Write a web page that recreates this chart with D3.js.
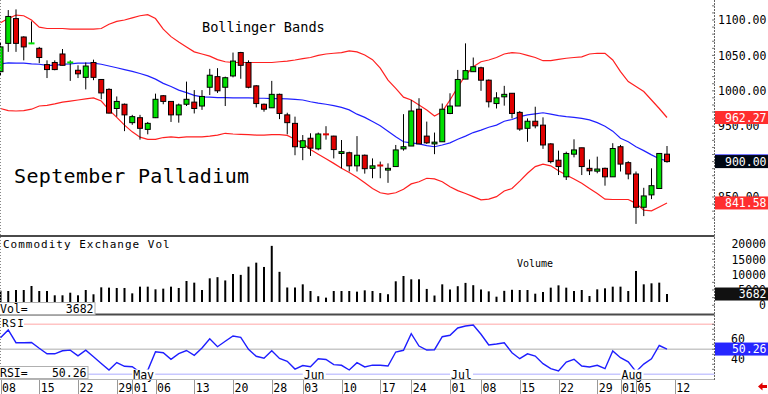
<!DOCTYPE html>
<html>
<head>
<meta charset="utf-8">
<script src="https://cdn.jsdelivr.net/npm/d3@7"></script>
<style>
  body { margin: 0; background: #fff; overflow: hidden; }
  svg { display: block; }
  text { font-family: "DejaVu Sans Mono", monospace; fill: #000; }
</style>
</head>
<body>
<div id="chart"></div>
<script>
// daily OHLC, Apr 08 .. Aug 09
const opens = [1027,1067,1102,1076,1066.5,1060,1037,1040,1052,1038,
  1029,1019,1040,1016,1002,975,981,955,962,945.5,
  962,993,985,966,981,984,978.5,1005,1020,1005,
  1021,1054,1040,1007,981,976,995,966,954,920,
  933,918,938.5,936,911.5,912.5,894,909,890.5,894.5,
  888,893,918,922,974,936,925,928,968,978.5,
  1016.5,1027,1032.5,1015,982,991.5,996.5,969.5,947,957,
  951.5,925,902,878.5,910.5,919.5,890.5,886.5,890.5,878.5,
  921,898.5,882.5,835.5,853,862,910.5];
const highs = [1068,1114,1115,1077,1098,1062,1043,1043,1059,1043,
  1036,1040,1044,1016.5,1003.5,992,982,966,966,956,
  996,994,985,982,1013,1001,1001,1031,1032,1020,
  1054,1055,1043,1008,982,1014,996,969,963.5,937.5,
  940,941,950,936.5,930.5,914,936,910,904.5,900,
  897.5,923.5,967,987,989.5,956.5,941,982,996.5,1029.5,
  1067,1047,1034,1016,998,1007,996.5,971.5,961,977.5,
  962.5,926,915.5,914,931.5,919.5,903,907,891.5,926,
  923.5,900.5,886,863,890.5,911.5,922];
const lows = [1022,1055,1055,1043,1066,1039,1018,1029,1036,1014,
  1018,1002,1015,988,968,963.5,943,952,931,938.5,
  961.5,981,956,955,978.5,968,973,994,997,978.5,
  1019,1017,1003.5,976.5,970.5,976,960,938.5,909,902,
  908,916,931,904.5,890.5,886,886,883,876.5,876.5,
  870,893,915.5,922,925,925,910.5,928,967,978.5,
  1016.5,1027,1000,976.5,975,979,961,943.5,928,947,
  918,897.5,881,874,906,881,881,883.5,866,878.5,
  886,875,812,823,847,862,898.5];
const closes = [1062,1105,1067,1062,1067,1047,1030,1030,1036,1040,
  1024,1035,1019,997,968.5,985,966,963.5,947,954,
  988,985,966,980,988,975,992,1022,1000,1018.5,
  1042,1036,1005,982,974,995,968,955,921,929.5,
  919,939,938,917,914,894,909,890,894,894,
  890.5,916.5,921,971.5,925,926.5,927.5,974,978.5,1016,
  1028.5,1034,1015,984.5,990,995,968,946,957,950.5,
  923.5,900,893,911.5,916.5,893,887,889.5,878.5,918.5,
  896.5,882.5,835.5,851.5,866,911.5,900];

// Bollinger bands
const upperBand = [1096,1102,1107,1106,1100,1090,1088,1088,1088,1087,
  1087,1087,1087,1088,1094,1098,1100,1103,1106,1107.5,
  1102,1087,1076.5,1069,1062,1055,1052,1049,1044,1041,
  1040,1040,1040,1040,1040,1040,1041,1042,1043.5,1045.5,
  1047,1050,1052,1053,1054,1056.5,1055,1050.5,1044,1032,
  1015,1003.5,991,987,980,973,964.5,970.5,987,1005,
  1022,1034,1041,1043.5,1047,1052,1054,1053,1050,1047,
  1042.5,1042.5,1044.5,1046,1047,1048,1052,1053,1053,1043.5,
  1027,1013,1006,999,987,975,962.27];
const midBand = [1038,1039.5,1039,1039,1038,1037.5,1036,1036,1037.5,1038,
  1039,1039,1039,1037.5,1035,1032.5,1030,1027.5,1024.5,1021,
  1016.5,1010.5,1006,1001,997.5,993.5,991.5,991,990.5,990.5,
  990,990,990,989.5,989.5,989,989,988.5,988,987,
  984.5,982.5,981,979,976.5,973,967,962.5,956.5,950.5,
  943,935,928,926.5,925,922.5,921,923.5,926.5,931.5,
  936,941,944.5,948.5,951.5,957,959.5,963.5,966,967.5,
  969,967,965,963.5,962.5,961,959,955,950,943,
  933,928,921,915.5,909.5,904,901];
const lowerBand = [975,972,971.5,972,974,978.5,979.5,981.5,984,985.5,
  987,988.5,990,985.5,973,962.5,951.5,942,934.5,931.5,
  931.5,934,935,934,935,935,935,936,937.5,940,
  939,938.5,938,937.5,937.5,938,938,937,931.5,926,
  917,910.5,904,897.5,890.5,884.5,878,870,862,856,
  854,856,861,868.5,871.5,876.5,875.5,871.5,864.5,859,
  855,850.5,846,847,850.5,858.5,862,872.5,883.5,893,
  896.5,894,887,881,875.5,869.5,862,855,847,846.5,
  846.5,846.5,841,831.5,830.5,836,841.58];

const volumes = [4770,4660,4990,4990,6300,4660,4660,3260,3260,4110,
  3260,4990,3590,5860,5760,5650,5650,3900,6080,6080,
  5210,5430,6080,5650,7930,7390,4990,8800,9180,8110,
  10210,9930,12600,13910,12510,19390,10920,5810,5810,6840,
  4660,2960,2500,4660,4660,4660,4450,4880,4660,3990,
  3610,7830,9560,8480,8480,5340,3190,6840,5160,6230,
  7310,6560,5160,4550,2810,4720,5060,4990,4990,3790,
  4340,5760,6510,5760,4660,4990,3030,5210,5540,6080,
  6080,4660,11200,6840,7170,7390,3682];

const rsiValues = [61.5,69.3,56.6,56.5,56.8,51,45.5,45.5,48.5,49.2,
  43.5,49.2,42.6,35.8,29.2,36.8,33,32.5,27,29,
  47.6,46.6,40,45.6,48.8,44,51.3,60.5,52.6,58,
  63.3,62,50,43,41,48.5,40.8,38,30.2,33.8,
  32.5,40.5,39.8,34.7,34,29.3,36.6,32.4,34.2,34,
  33.3,47.3,49,65.6,53.3,49.3,49.6,62.6,64,71.3,
  73.3,74.3,65,54.3,55.3,56.6,46.6,40.6,45.5,43.3,
  35.6,30.6,28.3,37.3,40,33.3,32.3,34,30.6,48.3,
  41.6,37.5,27.5,35.2,40.5,53.8,50.26];

const dayTickIndex = [0,5,10,15,17,20,25,30,35,39,44,49,53,58,62,67,72,77,80,82,87];
const dayTickLabels = ["08","15","22","29","01","06","13","20","28","03","10","17","24","01","08","15","22","29","01","05","12"];
const monthIndex = [17,39,58,80];
const monthLabels = ["May","Jun","Jul","Aug"];

const priceTicks = [850,900,950,1000,1050,1100];
const volTicks = [0,5000,10000,15000,20000];
const rsiTicks = [40,60];
const rsiLevels = [25,50,75];

const W = 768, H = 394;
const axisX = 714.5;

const svg = d3.select('#chart').append('svg')
  .attr('width', W)
  .attr('height', H);

const x = d3.scaleLinear().domain([0, 86]).range([0.5, 667]);
const yPrice = d3.scaleLinear().domain([850, 1100]).range([197, 20]);
const yVol = d3.scaleLinear().domain([0, 20000]).range([305.3, 244]);
const yRsi = d3.scaleLinear().domain([25, 75]).range([374.3, 324.3]);

const defs = svg.append('defs');
defs.append('clipPath').attr('id', 'clipPrice')
  .append('rect').attr('x', 0).attr('y', 0).attr('width', axisX).attr('height', 235);
defs.append('clipPath').attr('id', 'clipVol')
  .append('rect').attr('x', 0).attr('y', 237).attr('width', axisX).attr('height', 65);
defs.append('clipPath').attr('id', 'clipRsi')
  .append('rect').attr('x', 0).attr('y', 316).attr('width', axisX).attr('height', 63);

const days = d3.range(closes.length);

// ---------- price panel ----------
const price = svg.append('g').attr('clip-path', 'url(#clipPrice)');

const bandLine = d3.line().x((d, i) => x(i)).y(d => yPrice(d));
price.append('path').attr('d', bandLine(upperBand))
  .attr('fill', 'none').attr('stroke', '#ff2020').attr('stroke-width', 1.2);
price.append('path').attr('d', bandLine(lowerBand))
  .attr('fill', 'none').attr('stroke', '#ff2020').attr('stroke-width', 1.2);
price.append('path').attr('d', bandLine(midBand))
  .attr('fill', 'none').attr('stroke', '#2020ff').attr('stroke-width', 1.2);

const candle = price.selectAll('g.candle').data(days).join('g').attr('class', 'candle');
candle.append('line')
  .attr('x1', i => x(i)).attr('x2', i => x(i))
  .attr('y1', i => yPrice(highs[i])).attr('y2', i => yPrice(lows[i]))
  .attr('stroke', '#000').attr('stroke-width', 1);
candle.each(function(i) {
  const g = d3.select(this);
  const up = closes[i] >= opens[i];
  const col = up ? '#00e000' : '#e00000';
  const top = yPrice(Math.max(opens[i], closes[i]));
  const h = Math.abs(yPrice(opens[i]) - yPrice(closes[i]));
  if (h < 1.5) {
    g.append('rect').attr('x', x(i) - 3).attr('y', top - 1)
      .attr('width', 6).attr('height', 2).attr('fill', col);
  } else {
    g.append('rect').attr('x', x(i) - 2.5).attr('y', top)
      .attr('width', 5).attr('height', h)
      .attr('fill', col).attr('stroke', '#000').attr('stroke-width', 1);
  }
});

svg.append('text').attr('x', 202).attr('y', 32)
  .attr('font-size', 13.6).text('Bollinger Bands');
svg.append('text').attr('x', 14).attr('y', 183)
  .attr('font-size', 20).attr('letter-spacing', 0.35).text('September Palladium');

// ---------- volume panel ----------
svg.append('g').attr('clip-path', 'url(#clipVol)')
  .selectAll('rect').data(volumes).join('rect')
  .attr('x', (d, i) => x(i) - 1)
  .attr('y', d => yVol(d))
  .attr('width', 2)
  .attr('height', d => yVol(0) - yVol(d))
  .attr('fill', '#000');

svg.append('text').attr('x', 3).attr('y', 244).attr('dy', '0.36em')
  .attr('font-size', 11).attr('letter-spacing', 1).text('Commodity Exchange Vol');
svg.append('text').attr('x', 517).attr('y', 263).attr('dy', '0.36em')
  .attr('font-size', 10).text('Volume');

// ---------- RSI panel ----------
const levelColor = { 25: '#c8c8ff', 50: '#c8c8c8', 75: '#ffc4c4' };
svg.selectAll('line.level').data(rsiLevels).join('line').attr('class', 'level')
  .attr('x1', 0).attr('x2', axisX)
  .attr('y1', d => yRsi(d)).attr('y2', d => yRsi(d))
  .attr('stroke', d => levelColor[d]).attr('stroke-width', 1.6);

svg.append('g').attr('clip-path', 'url(#clipRsi)')
  .append('path')
  .attr('d', d3.line().x((d, i) => x(i)).y(d => yRsi(d))(rsiValues))
  .attr('fill', 'none').attr('stroke', '#1e1eff').attr('stroke-width', 1.4);

svg.append('rect').attr('x', 0).attr('y', 317).attr('width', 24).attr('height', 11).attr('fill', '#fff');
svg.append('text').attr('x', 2).attr('y', 323).attr('dy', '0.36em')
  .attr('font-size', 11).attr('letter-spacing', 1).text('RSI');

// month labels on white patches
const month = svg.selectAll('g.month').data(monthIndex).join('g').attr('class', 'month');
month.append('rect')
  .attr('x', d => x(d)).attr('y', 369.5)
  .attr('width', 23).attr('height', 10).attr('fill', '#fff');
month.append('text')
  .attr('x', d => x(d) + 1).attr('y', 375).attr('dy', '0.36em')
  .attr('font-size', 11.5)
  .text((d, i) => monthLabels[i]);

// ---------- separators & frame ----------
svg.append('line').attr('x1', 0).attr('x2', axisX).attr('y1', 236).attr('y2', 236)
  .attr('stroke', '#4a4a4a').attr('stroke-width', 2);
svg.append('line').attr('x1', 0).attr('x2', axisX).attr('y1', 314.5).attr('y2', 314.5)
  .attr('stroke', '#4a4a4a').attr('stroke-width', 2);
svg.append('line').attr('x1', 0).attr('x2', axisX).attr('y1', 379.5).attr('y2', 379.5)
  .attr('stroke', '#b4b4b4').attr('stroke-width', 1);
svg.append('line').attr('x1', 0.5).attr('x2', 0.5).attr('y1', 0).attr('y2', 379)
  .attr('stroke', '#888').attr('stroke-dasharray', '1,2');

// info boxes at left
function infoBox(x0, y0, w, label, value) {
  svg.append('rect').attr('x', x0).attr('y', y0).attr('width', w).attr('height', 12)
    .attr('fill', '#fff').attr('stroke', '#b0b0b0').attr('stroke-width', 1);
  svg.append('text').attr('x', x0 + 1).attr('y', y0 + 6).attr('dy', '0.36em')
    .attr('font-size', 11.5).text(label);
  svg.append('text').attr('x', x0 + w - 1.5).attr('y', y0 + 6).attr('dy', '0.36em')
    .attr('text-anchor', 'end').attr('font-size', 11.5).text(value);
}
infoBox(-1, 302.5, 96, 'Vol=', d3.format('d')(volumes[volumes.length - 1]));
infoBox(-1, 366.5, 89, 'RSI=', d3.format('.2f')(rsiValues[rsiValues.length - 1]));

// ---------- date axis ----------
const dateAxis = svg.append('g');
dateAxis.selectAll('line').data(dayTickIndex).join('line')
  .attr('x1', d => Math.round(x(d)) + 0.5).attr('x2', d => Math.round(x(d)) + 0.5)
  .attr('y1', 380).attr('y2', 394)
  .attr('stroke', '#999');
dateAxis.selectAll('text').data(dayTickIndex).join('text')
  .attr('x', d => x(d) + 1.5).attr('y', 387.5).attr('dy', '0.36em')
  .attr('font-size', 11.5)
  .text((d, i) => dayTickLabels[i]);

// ---------- right axes ----------
svg.append('line').attr('x1', axisX).attr('x2', axisX).attr('y1', 0).attr('y2', 380)
  .attr('stroke', '#666').attr('stroke-dasharray', '2,1');

const minor = d3.range(820, 1121, 10).map(v => yPrice(v))
  .concat(d3.range(0, 22501, 2500).map(v => yVol(v)).filter(y => y > 238 && y < 313))
  .concat(d3.range(30, 76, 5).map(v => yRsi(v)));
svg.selectAll('line.minor').data(minor).join('line').attr('class', 'minor')
  .attr('x1', axisX - 2.5).attr('x2', axisX)
  .attr('y1', d => d).attr('y2', d => d)
  .attr('stroke', '#777');

const priceAxis = svg.append('g').attr('transform', `translate(${axisX},0)`)
  .call(d3.axisRight(yPrice).tickValues(priceTicks).tickFormat(d3.format('.2f'))
    .tickSize(0).tickPadding(3.5));
priceAxis.select('.domain').remove();
priceAxis.selectAll('text').attr('font-size', 11.5).attr('font-family', '"DejaVu Sans Mono", monospace');

const volAxis = svg.append('g').attr('transform', `translate(${axisX},0)`)
  .call(d3.axisRight(yVol).tickValues(volTicks).tickFormat(d3.format('d')).tickSize(0));
volAxis.select('.domain').remove();
volAxis.selectAll('text').attr('x', 51.5).attr('text-anchor', 'end')
  .attr('font-size', 11.5).attr('font-family', '"DejaVu Sans Mono", monospace');

const rsiAxis = svg.append('g').attr('transform', `translate(${axisX},0)`)
  .call(d3.axisRight(yRsi).tickValues(rsiTicks).tickSize(0).tickPadding(16.5));
rsiAxis.select('.domain').remove();
rsiAxis.selectAll('text').attr('font-size', 11.5).attr('font-family', '"DejaVu Sans Mono", monospace');

// last-value boxes
function valueBox(yc, txt, fill) {
  svg.append('rect').attr('x', axisX + 0.5).attr('y', yc - 6.5)
    .attr('width', W - axisX).attr('height', 13).attr('fill', fill);
  if (txt) {
    svg.append('text').attr('x', 766.5).attr('y', yc).attr('dy', '0.36em')
      .attr('text-anchor', 'end').attr('font-size', 11.5)
      .style('fill', '#fff').text(txt);
  }
}
const last = closes.length - 1;
valueBox(yPrice(upperBand[last]), d3.format('.2f')(upperBand[last]), '#ff2e2e');
valueBox(yPrice(lowerBand[last]), d3.format('.2f')(lowerBand[last]), '#ff2e2e');
valueBox(yPrice(midBand[last]), null, '#2020ff');   // hidden under the close box
valueBox(yPrice(closes[last]), d3.format('.2f')(closes[last]), '#000814');
valueBox(yVol(volumes[last]), d3.format('d')(volumes[last]), '#111');
valueBox(yRsi(rsiValues[last]), d3.format('.2f')(rsiValues[last]), '#2626ff');

// red arrow bottom right
svg.append('path')
  .attr('d', 'M758,386.5 L762.5,382.5 L762.5,385 L767,385 L767,388 L762.5,388 L762.5,390.5 Z')
  .attr('fill', '#e00000');
</script>
</body>
</html>
